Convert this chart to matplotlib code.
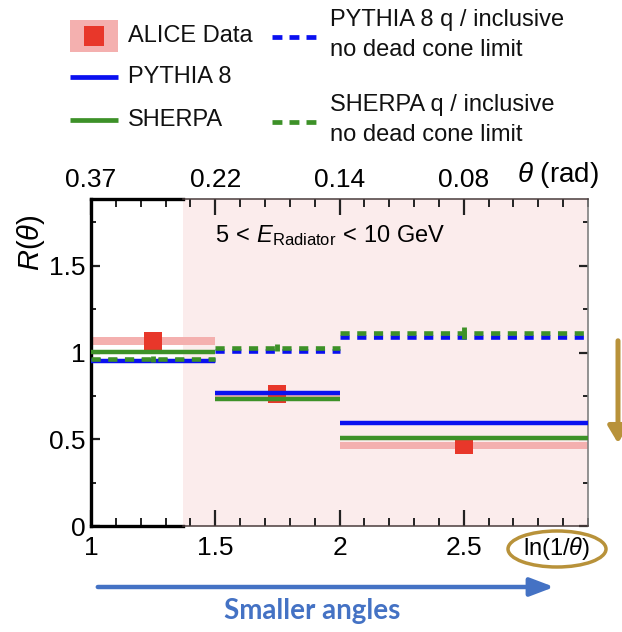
import matplotlib
matplotlib.use("Agg")
import matplotlib.pyplot as plt
from matplotlib.lines import Line2D
from matplotlib.patches import Rectangle, Ellipse, FancyArrowPatch
from matplotlib.ticker import MultipleLocator, NullLocator

plt.rcParams['font.family'] = ['Liberation Sans', 'DejaVu Sans']
plt.rcParams['mathtext.fontset'] = 'custom'
plt.rcParams['mathtext.rm'] = 'Liberation Sans'
plt.rcParams['mathtext.it'] = 'Liberation Sans:italic'
plt.rcParams['mathtext.bf'] = 'Liberation Sans:bold'

# ln(1/theta) bins
bin_lo = [1.0, 1.5, 2.0]
bin_hi = [1.5, 2.0, 3.0]
bin_center = [1.25, 1.75, 2.5]

# R(theta) per bin
alice_r = [1.065, 0.76, 0.465]
alice_sys = [0.023, 0.015, 0.022]
pythia_r = [0.95, 0.767, 0.591]
sherpa_r = [1.004, 0.732, 0.509]
pythia_nodc = [0.955, 1.01, 1.09]
sherpa_nodc = [0.963, 1.028, 1.115]
sherpa_nodc_err = [0.015, 0.02, 0.035]

# axis ticks
x_ticks = [1, 1.5, 2, 2.5]
x_ticklabels = ['1', '1.5', '2', '2.5']
theta_ticklabels = ['0.37', '0.22', '0.14', '0.08']
y_ticks = [0, 0.5, 1, 1.5]
y_ticklabels = ['0', '0.5', '1', '1.5']
shade_start = 1.37

BLUE = '#0a10f0'
GREEN = '#3d9128'
RED = '#e8372a'
BAND = '#f4b0af'
SHADE = '#fbecec'
GOLD = '#b8923a'
SLIDE_BLUE = '#4472c4'

W, H = 622, 632
fig = plt.figure(figsize=(W / 100, H / 100), dpi=100)


def fx(px):
    return px / W


def fy(py):
    return 1 - py / H


ax = fig.add_axes([fx(91), fy(526), fx(588) - fx(91), fy(199) - fy(526)])
x_min, x_max = 1.0, 3.0
ax.set_xlim(x_min, x_max)
ax.set_ylim(0, 1.885)

ax.axvspan(shade_start, x_max, color=SHADE, lw=0, zorder=0)

# data: systematic bands and points
for lo, hi, r, s in zip(bin_lo, bin_hi, alice_r, alice_sys):
    ax.fill_between([lo, hi], r - s, r + s, color=BAND, lw=0, zorder=1)
ax.plot(bin_center, alice_r, 's', ms=12.3, color=RED, mew=0, zorder=2)

# model curves
dash = (0, (2.0, 1.65))
ax.hlines(pythia_nodc, bin_lo, bin_hi, colors=BLUE, lw=3.3,
          linestyles=dash, zorder=3)
ax.hlines(pythia_r, bin_lo, bin_hi, colors=BLUE, lw=3.2,
          capstyle='butt', zorder=3.5)
ax.hlines(sherpa_r, bin_lo, bin_hi, colors=GREEN, lw=3.2,
          capstyle='butt', zorder=4)
ax.hlines(sherpa_nodc, bin_lo, bin_hi, colors=GREEN, lw=3.3,
          linestyles=dash, zorder=4.5)
ax.errorbar(bin_center, sherpa_nodc, yerr=sherpa_nodc_err, fmt='none',
            ecolor=GREEN, elinewidth=3.5, capsize=0, zorder=4.6)

# ticks
ax.set_xticks(x_ticks, x_ticklabels)
ax.xaxis.set_minor_locator(MultipleLocator(0.1))
ax.set_yticks(y_ticks, y_ticklabels)
ax.yaxis.set_minor_locator(MultipleLocator(0.25))
ax.tick_params(axis='x', which='major', direction='in', length=11.5,
               width=1.6, top=True, bottom=True, labelsize=19, pad=7,
               color='#222222')
ax.tick_params(axis='x', which='minor', direction='in', length=5.8,
               width=1.4, top=True, bottom=True, color='#222222')
ax.tick_params(axis='y', which='major', direction='in', length=6.5,
               width=1.6, left=True, right=True, labelsize=19, pad=4,
               color='#222222')
ax.tick_params(axis='y', which='minor', direction='in', length=3.3,
               width=1.4, left=True, right=True, color='#222222')

secax = ax.secondary_xaxis('top')
secax.set_xticks(x_ticks, theta_ticklabels)
secax.xaxis.set_minor_locator(NullLocator())
secax.tick_params(length=0, labelsize=19, pad=5)
secax.spines['top'].set_visible(False)

# frame
ax.spines['left'].set_linewidth(2.4)
ax.spines['left'].set_color('black')
ax.spines['right'].set_linewidth(1.2)
ax.spines['right'].set_color('#808080')
ax.spines['top'].set_visible(False)
ax.spines['bottom'].set_visible(False)
split = (shade_start - x_min) / (x_max - x_min)
for yy in (0, 1):
    ax.add_line(Line2D([0, split], [yy, yy], transform=ax.transAxes,
                       color='black', lw=2.4, clip_on=False, zorder=6,
                       solid_capstyle='projecting'))
    ax.add_line(Line2D([split, 1], [yy, yy], transform=ax.transAxes,
                       color='#4a3c3c', lw=1.1, clip_on=False, zorder=6))

ax.set_ylabel(r'$R(\theta)$', fontsize=21)
ax.yaxis.set_label_coords(-0.088, 0.865)

ax.text(1.5, 1.675, r'$5\,<\,E_{\mathrm{Radiator}}\,<\,10$ GeV',
        fontsize=17, va='center', ha='left')

fig.text(fx(558), fy(175), r'$\theta$ (rad)', fontsize=20,
         ha='center', va='center')
fig.text(fx(557), fy(549), r'ln(1/$\theta$)', fontsize=17,
         ha='center', va='center')
fig.add_artist(Ellipse((fx(557), fy(549)), 98 / W, 36 / H,
                       transform=fig.transFigure, fill=False,
                       edgecolor=GOLD, lw=2.5))

# legend
leg_dash = (0, (2.1, 1.5))
fig.add_artist(Rectangle((fx(70), fy(52)), 48 / W, 32 / H,
                         transform=fig.transFigure, color=BAND, lw=0))
fig.add_artist(Rectangle((fx(84), fy(46)), 20 / W, 20 / H,
                         transform=fig.transFigure, color=RED, lw=0))
fig.add_artist(Line2D([fx(70), fx(118)], [fy(77), fy(77)],
                      transform=fig.transFigure, color=BLUE, lw=3.4,
                      solid_capstyle='butt'))
fig.add_artist(Line2D([fx(70), fx(118)], [fy(120), fy(120)],
                      transform=fig.transFigure, color=GREEN, lw=3.4,
                      solid_capstyle='butt'))
fig.add_artist(Line2D([fx(272), fx(316)], [fy(37), fy(37)],
                      transform=fig.transFigure, color=BLUE, lw=3.4,
                      linestyle=leg_dash))
fig.add_artist(Line2D([fx(272), fx(316)], [fy(122), fy(122)],
                      transform=fig.transFigure, color=GREEN, lw=3.4,
                      linestyle=leg_dash))
leg_kw = dict(fontsize=17, ha='left', va='center', color='#111111')
fig.text(fx(128), fy(36), 'ALICE Data', **leg_kw)
fig.text(fx(128), fy(77), 'PYTHIA 8', **leg_kw)
fig.text(fx(128), fy(120), 'SHERPA', **leg_kw)
fig.text(fx(330), fy(35), 'PYTHIA 8 q / inclusive\nno dead cone limit',
         linespacing=1.45, **leg_kw)
fig.text(fx(330), fy(120), 'SHERPA q / inclusive\nno dead cone limit',
         linespacing=1.45, **leg_kw)

# annotations
fig.add_artist(FancyArrowPatch((fx(95), fy(587)), (fx(557), fy(587)),
                               transform=fig.transFigure,
                               arrowstyle='-|>,head_length=1.45,head_width=0.55',
                               mutation_scale=10, lw=3.2, color=SLIDE_BLUE))
fig.text(fx(312), fy(611), 'Smaller angles', fontfamily='Lato',
         fontweight='bold', fontsize=20, color=SLIDE_BLUE,
         ha='center', va='center')
fig.add_artist(FancyArrowPatch((fx(618), fy(338)), (fx(618), fy(446)),
                               transform=fig.transFigure,
                               arrowstyle='-|>,head_length=1.0,head_width=0.6',
                               mutation_scale=10, lw=3.6, color=GOLD))

fig.savefig('out.png', dpi=100)
